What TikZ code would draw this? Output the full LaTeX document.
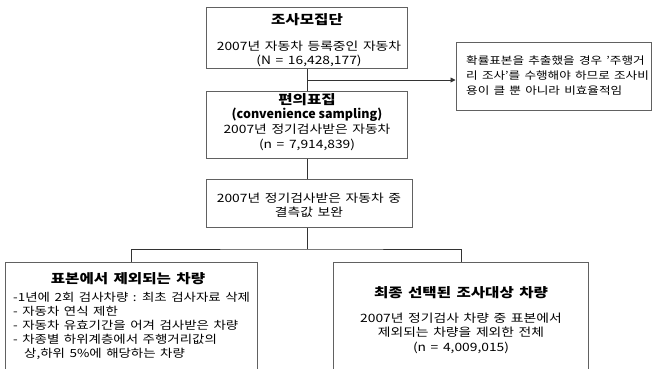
\documentclass[tikz,border=0pt]{standalone}
\usepackage{fontspec}
\setmainfont{Noto Sans CJK KR}[FakeStretch=1.2, WordSpace=1.5]
\newfontfamily\latinf{Noto Sans CJK KR}
\usetikzlibrary{arrows.meta}
\begin{document}
\begin{tikzpicture}[x=1pt,y=-1pt,
  box/.style={draw=black!62, line width=1pt, fill=white, inner sep=0pt},
  txt/.style={font=\fontsize{11.5}{14.5}\selectfont, align=center, inner sep=0pt},
  ttl/.style={font=\fontsize{13}{15}\selectfont\bfseries, inner sep=0pt},
  conn/.style={draw=black!80, line width=0.9pt}]
\useasboundingbox (0,0) rectangle (658,368);
\clip (0,0) rectangle (658,368);
% boxes
\node[box, minimum width=201, minimum height=61] (b1) at (307,38) {};
\node[box, minimum width=201, minimum height=67] (b2) at (307,124.5) {};
\node[box, minimum width=206, minimum height=48] (b3) at (309,203) {};
\node[box, minimum width=195, minimum height=68] (r) at (553.5,76) {};
\node[box, minimum width=252, minimum height=140, anchor=north] (L) at (131,262) {};
\node[box, minimum width=255, minimum height=140, anchor=north] (R) at (461,262) {};
% texts
\node[ttl] (t1) at (307,20) {조사모집단};
\node[txt] (t1b) at (309,54) {2007년 자동차 등록중인 자동차\\(N = 16,428,177)};
\node[ttl] (t2) at (307,100) {편의표집};
\node[ttl, font=\fontsize{12.5}{15}\latinf\bfseries] (t2c) at (307,115) {(convenience sampling)};
\node[txt] (t2b) at (307,137.5) {2007년 정기검사받은 자동차\\(n = 7,914,839)};
\node[txt] (t3) at (309,205) {2007년 정기검사받은 자동차 중\\결측값 보완};
\node[txt, align=left, anchor=west, font=\fontsize{10.5}{15}\selectfont] (tr) at (466,76) {확률표본을 추출했을 경우 '주행거\\리 조사'를 수행해야 하므로 조사비\\용이 클 뿐 아니라 비효율적임};
\node[ttl] (tL) at (128,279) {표본에서 제외되는 차량};
\node[txt, align=left, anchor=north west, font=\fontsize{11.2}{14}\selectfont] (tLb) at (13,292) {-1년에 2회 검사차량 : 최초 검사자료 삭제\\- 자동차 연식 제한\\- 자동차 유효기간을 어겨 검사받은 차량\\- 차종별 하위계층에서 주행거리값의\\\hspace*{11pt}상,하위 5\%에 해당하는 차량};
\node[ttl] (tR) at (461,293) {최종 선택된 조사대상 차량};
\node[txt] (tRb) at (461,333) {2007년 정기검사 차량 중 표본에서\\제외되는 차량을 제외한 전체\\(n = 4,009,015)};
% connectors
\draw[conn] (b1.south) -- (b2.north);
\coordinate (j1) at (307,80);
\draw[conn, -{Triangle[length=5pt,width=5pt]}] (j1) -- (r.west |- j1);
\draw[conn] (b2.south) -- (b2.south |- b3.north);
\coordinate (j2) at (307,249);
\draw[conn] (j2 |- b3.south) -- (j2);
\draw[conn] (L.north) |- (j2) -| (R.north);
\end{tikzpicture}
\end{document}
